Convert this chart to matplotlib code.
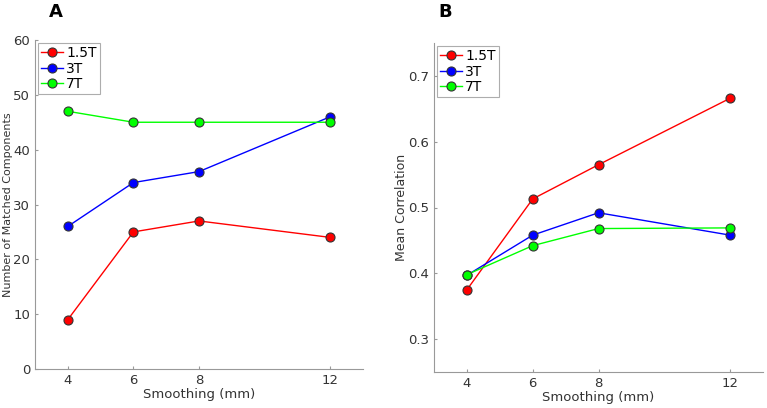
import matplotlib
matplotlib.use("Agg")
import matplotlib.pyplot as plt

smoothing = [4, 6, 8, 12]
labels = ["1.5T", "3T", "7T"]
colors = ["#ff0000", "#0000ff", "#00ff00"]
matched = {
    "1.5T": [9, 25, 27, 24],
    "3T": [26, 34, 36, 46],
    "7T": [47, 45, 45, 45],
}
corr = {
    "1.5T": [0.375, 0.513, 0.565, 0.666],
    "3T": [0.397, 0.458, 0.492, 0.458],
    "7T": [0.398, 0.442, 0.468, 0.469],
}

plt.rcParams['font.family'] = ['DejaVu Sans']
W, H = 767, 408
fig = plt.figure(figsize=(W/100, H/100), dpi=100)

def make_ax(l, r, t, b):
    return fig.add_axes([l/W, 1 - b/H, (r-l)/W, (b-t)/H])

axA = make_ax(35, 363, 40, 369)
axB = make_ax(434, 763, 43, 372)

def style(ax, data, ylim, yticks, ylabel, ylab_x, ylab_fs):
    for lab, c in zip(labels, colors):
        ax.plot(smoothing, data[lab], '-', color=c, lw=1.0, marker='o', ms=6.5,
                mfc=c, mec='#333333', mew=0.8, label=lab)
    ax.set_xlim(3, 13)
    ax.set_ylim(*ylim)
    ax.set_xticks(smoothing)
    ax.set_yticks(yticks)
    for s in ['top', 'right']:
        ax.spines[s].set_visible(False)
    for s in ['left', 'bottom']:
        ax.spines[s].set_color('#999999')
        ax.spines[s].set_linewidth(0.8)
    ax.tick_params(colors='#999999', labelcolor='#333333', labelsize=9.5,
                   length=2, direction='in')
    ax.set_xlabel("Smoothing (mm)", fontsize=9.5, color='#333333', labelpad=1)
    ax.set_ylabel(ylabel, fontsize=ylab_fs, color='#333333')
    ax.yaxis.set_label_coords(ylab_x, 0.5)
    leg = ax.legend(loc='upper left', fontsize=10, frameon=True, fancybox=False,
                    handlelength=1.6, handletextpad=0.2, borderpad=0.2,
                    labelspacing=0.1, borderaxespad=0.25)
    leg.get_frame().set_edgecolor('#999999')
    leg.get_frame().set_linewidth(0.8)

style(axA, matched, (0, 60), [0, 10, 20, 30, 40, 50, 60],
      "Number of Matched Components", -0.066, 8)
style(axB, corr, (0.25, 0.75), [0.3, 0.4, 0.5, 0.6, 0.7],
      "Mean Correlation", -0.08, 9)
axB.set_yticklabels(["0.3", "0.4", "0.5", "0.6", "0.7"])

fig.text(49/W, 1 - 12/H, "A", fontsize=13, fontweight='bold', va='center', ha='left')
fig.text(438/W, 1 - 12/H, "B", fontsize=13, fontweight='bold', va='center', ha='left')

fig.savefig("out.png", dpi=100)
